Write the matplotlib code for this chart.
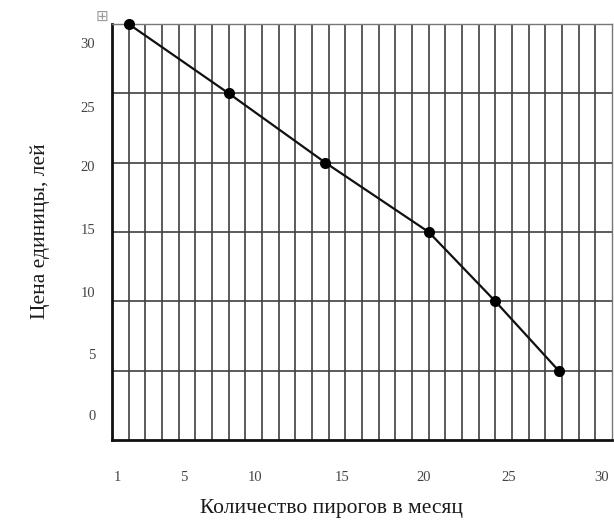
import matplotlib
matplotlib.use("Agg")
import matplotlib.pyplot as plt

# данные
qty = [1, 7, 12.8, 19, 23, 26.8]        # количество пирогов в месяц
price = [30, 25, 20, 15, 10, 5]         # цена единицы, лей
x_labels = ["1", "5", "10", "15", "20", "25", "30"]
y_labels = ["0", "5", "10", "15", "20", "25", "30"]
# подписи в оригинале стоят не строго под линиями сетки
x_label_pos = [0.35, 4.3, 8.6, 13.8, 18.7, 23.8, 29.4]
y_label_pos = [1.8, 6.2, 10.7, 15.2, 19.75, 24.0, 28.6]

plt.rcParams["font.family"] = ["Liberation Serif", "DejaVu Sans"]

fig = plt.figure(figsize=(6.14, 5.22), dpi=100)
ax = fig.add_axes([112 / 614, 82 / 522, 500 / 614, 416 / 522])
ax.set_xlim(0, 30); ax.set_ylim(0, 30)

# сетка: вертикальные линии на каждом целом, горизонтальные через 5
for v in range(1, 30):
    ax.axvline(v, color="#404040", lw=1.2, zorder=1)
for h in range(5, 30, 5):
    ax.axhline(h, color="#404040", lw=1.2, zorder=1)

ax.plot(qty, price, "-", color="#111111", lw=1.6, zorder=3)
ax.plot(qty, price, "o", color="black", ms=7, zorder=4, clip_on=False)

for s in ["left", "bottom"]:
    ax.spines[s].set_color("#111111"); ax.spines[s].set_linewidth(2.0)
for s in ["top", "right"]:
    ax.spines[s].set_color("#777777"); ax.spines[s].set_linewidth(1.0)

ax.set_xticks(x_label_pos, x_labels)
ax.set_yticks(y_label_pos, y_labels)
ax.tick_params(length=0, labelsize=10.5, labelcolor="#444444")
ax.tick_params(axis="x", pad=22)
ax.tick_params(axis="y", pad=12)

fig.text(332 / 614, 1 - 509 / 522, "Количество пирогов в месяц",
         ha="center", va="center", fontsize=15.5, color="#1a1a1a")
fig.text(40 / 614, 1 - 231 / 522, "Цена единицы, лей",
         ha="center", va="center", rotation=90, fontsize=15.5, color="#1a1a1a")
fig.text(102 / 614, 1 - 16 / 522, "⊞", ha="center", va="center",
         fontsize=11, color="#999999", family="DejaVu Sans")

fig.savefig("out.png", dpi=100)
